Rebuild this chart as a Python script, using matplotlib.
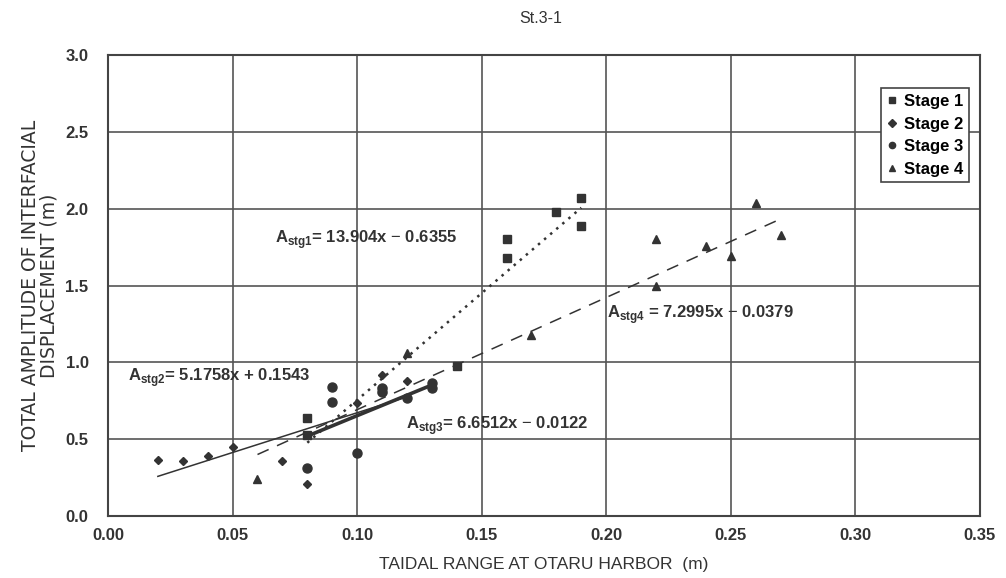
import matplotlib
matplotlib.use('Agg')
import matplotlib.pyplot as plt
import numpy as np

plt.rcParams['font.family'] = ['Liberation Sans', 'DejaVu Sans']
plt.rcParams['mathtext.fontset'] = 'custom'
plt.rcParams['mathtext.rm'] = 'Liberation Sans'
plt.rcParams['mathtext.bf'] = 'Liberation Sans:bold'

# data
stage1_x = [0.08, 0.08, 0.11, 0.14, 0.16, 0.16, 0.18, 0.19, 0.19]
stage1_y = [0.64, 0.53, 0.82, 0.975, 1.80, 1.68, 1.98, 2.07, 1.89]

stage2_x = [0.02, 0.03, 0.04, 0.05, 0.07, 0.08, 0.10, 0.11, 0.12]
stage2_y = [0.364, 0.358, 0.39, 0.45, 0.36, 0.21, 0.735, 0.92, 0.88]

stage3_x = [0.08, 0.09, 0.09, 0.10, 0.11, 0.11, 0.12, 0.13, 0.13]
stage3_y = [0.31, 0.84, 0.74, 0.41, 0.83, 0.81, 0.77, 0.865, 0.83]

stage4_x = [0.06, 0.12, 0.17, 0.22, 0.22, 0.24, 0.25, 0.26, 0.27]
stage4_y = [0.24, 1.06, 1.18, 1.80, 1.50, 1.76, 1.69, 2.04, 1.83]

# regression coefficients (slope, intercept) as printed on the chart
fit_slope = [13.904, 5.1758, 6.6512, 7.2995]
fit_icept = [-0.6355, 0.1543, -0.0122, -0.0379]
fit_labels = [
    r'A$_{\mathbf{stg1}}$= 13.904x $-$ 0.6355',
    r'A$_{\mathbf{stg2}}$= 5.1758x + 0.1543',
    r'A$_{\mathbf{stg3}}$= 6.6512x $-$ 0.0122',
    r'A$_{\mathbf{stg4}}$ = 7.2995x $-$ 0.0379',
]
label_pos = [(0.067, 1.80), (0.008, 0.90), (0.1195, 0.59), (0.2005, 1.31)]

stage_names = ['Stage 1', 'Stage 2', 'Stage 3', 'Stage 4']
xs = [stage1_x, stage2_x, stage3_x, stage4_x]
ys = [stage1_y, stage2_y, stage3_y, stage4_y]

markers = ['s', 'D', 'o', '^']
msizes = [6, 4.5, 6.5, 6]
lstyles = [(0, (1, 2.2)), '-', '-', (0, (8, 6))]
lwidths = [1.8, 1.1, 2.6, 1.1]

ink = '#333333'

fig = plt.figure(figsize=(10.06, 5.78), dpi=100)
ax = fig.add_axes([0.1074, 0.1073, 0.8666, 0.7975])

for x, y, m, ms, name in zip(xs, ys, markers, msizes, stage_names):
    ax.plot(x, y, linestyle='none', marker=m, ms=ms, color=ink, label=name)

for x, a, b, ls, lw in zip(xs, fit_slope, fit_icept, lstyles, lwidths):
    xx = np.array([min(x), max(x)])
    ax.plot(xx, a * xx + b, linestyle=ls, lw=lw, color=ink)

for txt, (tx, ty) in zip(fit_labels, label_pos):
    ax.text(tx, ty, txt, fontsize=12, fontweight='bold', color=ink,
            va='center', ha='left')

ax.set_xlim(0, 0.35)
ax.set_ylim(0, 3.0)
ax.set_xticks(np.arange(0, 0.351, 0.05))
ax.set_yticks(np.arange(0, 3.01, 0.5))
ax.set_xticklabels([f'{v:.2f}' for v in np.arange(0, 0.351, 0.05)])
ax.set_yticklabels([f'{v:.1f}' for v in np.arange(0, 3.01, 0.5)])
ax.grid(True, color='#555555', lw=1.2)
ax.set_axisbelow(True)
ax.tick_params(length=0, labelsize=12, colors=ink)
ax.tick_params(axis='x', pad=9)
ax.tick_params(axis='y', pad=14)
for lab in ax.get_xticklabels() + ax.get_yticklabels():
    lab.set_fontweight('bold')
for sp in ax.spines.values():
    sp.set_color('#444444')
    sp.set_linewidth(1.5)

ax.set_xlabel('TAIDAL RANGE AT OTARU HARBOR  (m)', fontsize=12.5, color=ink,
              labelpad=10)
ax.set_ylabel('TOTAL AMPLITUDE OF INTERFACIAL\nDISPLACEMENT (m)', fontsize=13.5,
              family='DejaVu Sans', color=ink, labelpad=5, linespacing=0.95)
fig.text(0.537, 0.968, 'St.3-1', ha='center', va='center', fontsize=11.5,
         color=ink)

leg = ax.legend(loc='upper right', bbox_to_anchor=(0.9874, 0.928),
                frameon=True, fancybox=False, framealpha=1, edgecolor='#444444',
                borderpad=0.35, handlelength=0.6, handletextpad=0.4,
                labelspacing=0.45, borderaxespad=0,
                prop={'weight': 'bold', 'size': 12})
leg.get_frame().set_linewidth(1.2)
for h in leg.legend_handles:
    h.set_markersize(4.5)

fig.savefig('out.png', dpi=100)
